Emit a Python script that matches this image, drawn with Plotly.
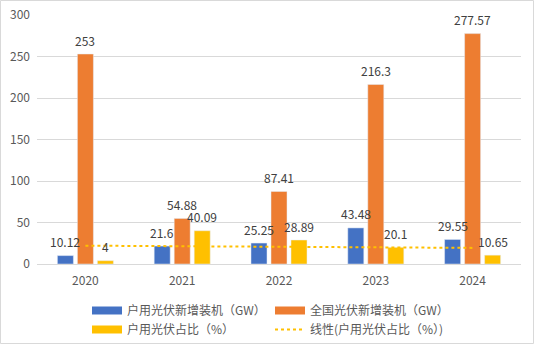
import numpy as np
import plotly.graph_objects as go

years = ["2020", "2021", "2022", "2023", "2024"]
household_gw = [10.12, 21.6, 25.25, 43.48, 29.55]
national_gw = [253, 54.88, 87.41, 216.3, 277.57]
household_pct = [4, 40.09, 28.89, 20.1, 10.65]
y_ticks = [0, 50, 100, 150, 200, 250, 300]

names = ["户用光伏新增装机（GW）", "全国光伏新增装机（GW）", "户用光伏占比（%）", "线性(户用光伏占比（%）)"]
colors = ["#4472C4", "#ED7D31", "#FFC000"]

W, H = 537, 346
ml, mr, mt, mb = 37, 16, 15, 82
pw, ph = W - ml - mr, H - mt - mb

fig = go.Figure()
series = [household_gw, national_gw, household_pct]
for s, c, n in zip(series, colors, names[:3]):
    fig.add_trace(go.Bar(x=years, y=s, marker_color=c, name=n, showlegend=False))

# trend line (linear fit on household percentage, like Excel's trendline)
xi = np.arange(1, len(years) + 1)
k, b = np.polyfit(xi, household_pct, 1)
trend = k * xi + b

# legend proxies (wide swatches)
legend_ids = ["legend", "legend2", "legend"]
for c, n, lg in zip(colors, names[:3], legend_ids):
    fig.add_trace(go.Scatter(x=[years[0]], y=[None], mode="lines", name=n,
                             line=dict(color=c, width=8), legend=lg,
                             hoverinfo="skip"))
fig.add_trace(go.Scatter(x=years, y=trend, mode="lines", name=names[3],
                         line=dict(color="#FFC000", width=2, dash="dot"),
                         legend="legend2", hoverinfo="skip"))

# data labels (x given as category index)
offsets = [-20, 0, 20]
for s, off in zip(series, offsets):
    for i, v in enumerate(s):
        fig.add_annotation(x=i, y=v, text=f"{v:g}", showarrow=False,
                           xshift=off, yshift=14, yanchor="middle",
                           font=dict(size=12, color="#404040"))

fig.add_shape(type="rect", xref="paper", yref="paper",
              x0=(0.5 - ml) / pw, x1=(W - 3.5 - ml) / pw,
              y0=(mt + ph - (H - 2.5)) / ph, y1=(mt + ph - 0.5) / ph,
              line=dict(color="#D9D9D9", width=1), layer="below")

leg_common = dict(orientation="v", xanchor="left", yanchor="top",
                  font=dict(size=12, color="#595959"),
                  bgcolor="rgba(0,0,0,0)", tracegroupgap=0, itemsizing="trace")
lg_y = (mt + ph - 296) / ph
fig.update_layout(
    width=W, height=H,
    margin=dict(l=ml, r=mr, t=mt, b=mb, autoexpand=False),
    paper_bgcolor="white", plot_bgcolor="white",
    font=dict(family="Noto Sans CJK SC, Noto Sans, sans-serif", size=12, color="#595959"),
    barmode="group", bargap=0.38, bargroupgap=0.2,
    showlegend=True,
    legend=dict(x=(87 - ml) / pw, y=lg_y, **leg_common),
    legend2=dict(x=(270 - ml) / pw, y=lg_y, **leg_common),
    xaxis=dict(type="category", range=[-0.5, len(years) - 0.5], showgrid=False,
               showline=True, linecolor="#D9D9D9",
               ticks="", ticklabelstandoff=6, tickfont=dict(size=12, color="#595959")),
    yaxis=dict(range=[0, 300], tickvals=y_ticks, showgrid=True, gridcolor="#D9D9D9",
               zeroline=False, showline=False, ticks="", ticklabelstandoff=6,
               tickfont=dict(size=12, color="#595959")),
)

fig.write_html("out.html")
